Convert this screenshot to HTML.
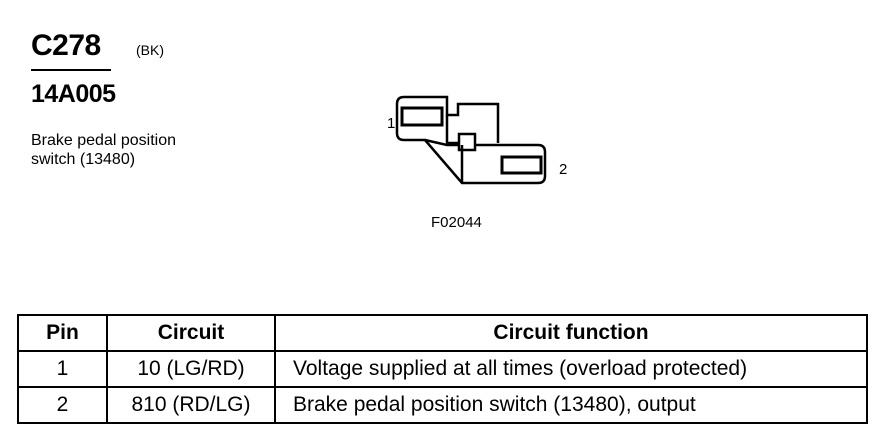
<!DOCTYPE html>
<html><head><style>
body{margin:0;width:882px;height:448px;background:#fff;position:relative;font-family:"Liberation Sans",Arial,sans-serif;color:#000;overflow:hidden}
.a{position:absolute}
table{position:absolute;left:17px;top:314px;border-collapse:collapse;width:851px}
td{border:2px solid #000;font-size:21px;height:34px;padding:0;line-height:24px}
</style></head><body>
<div class="a" style="left:31px;top:29px;font-size:30px;font-weight:bold;letter-spacing:-0.5px">C278</div>
<div class="a" style="left:136px;top:42px;font-size:14px">(BK)</div>
<div class="a" style="left:31px;top:69px;width:80px;height:2px;background:#000"></div>
<div class="a" style="left:31px;top:80px;font-size:25px;font-weight:bold;letter-spacing:-0.5px">14A005</div>
<div class="a" style="left:31px;top:131px;font-size:16px;line-height:19px">Brake pedal position<br>switch (13480)</div>
<div class="a" style="left:431px;top:214px;font-size:15px">F02044</div>
<div class="a" style="left:387px;top:115px;font-size:15px">1</div>
<div class="a" style="left:559px;top:161px;font-size:15px">2</div>
<svg class="a" style="left:0;top:0" width="882" height="300">
<g fill="none" stroke="#000" stroke-width="2.5">
<path d="M404 97 H447 V115 H458 V104 H498 V143"/>
<path d="M404 97 Q397 97 397 104 V133 Q397 140 404 140 H425 L462 183 H538 Q545 183 545 176 V152 Q545 145 538 145 H475"/>
<path d="M425 140 L447 145 H459"/>
<path d="M462 145 V183"/>
<rect x="459" y="134" width="16" height="16"/>
<path d="M447 115 V143 H459"/>
<rect x="402" y="108" width="40" height="17" stroke-width="3"/>
<rect x="502" y="157" width="39" height="16" stroke-width="3"/>
</g></svg>
<table>
<tr style="font-weight:bold"><td style="width:87px;text-align:center">Pin</td><td style="width:166px;text-align:center">Circuit</td><td style="text-align:center">Circuit function</td></tr>
<tr><td style="text-align:center">1</td><td style="text-align:center">10 (LG/RD)</td><td style="padding-left:17px">Voltage supplied at all times (overload protected)</td></tr>
<tr><td style="text-align:center">2</td><td style="text-align:center">810 (RD/LG)</td><td style="padding-left:17px">Brake pedal position switch (13480), output</td></tr>
</table>
</body></html>
